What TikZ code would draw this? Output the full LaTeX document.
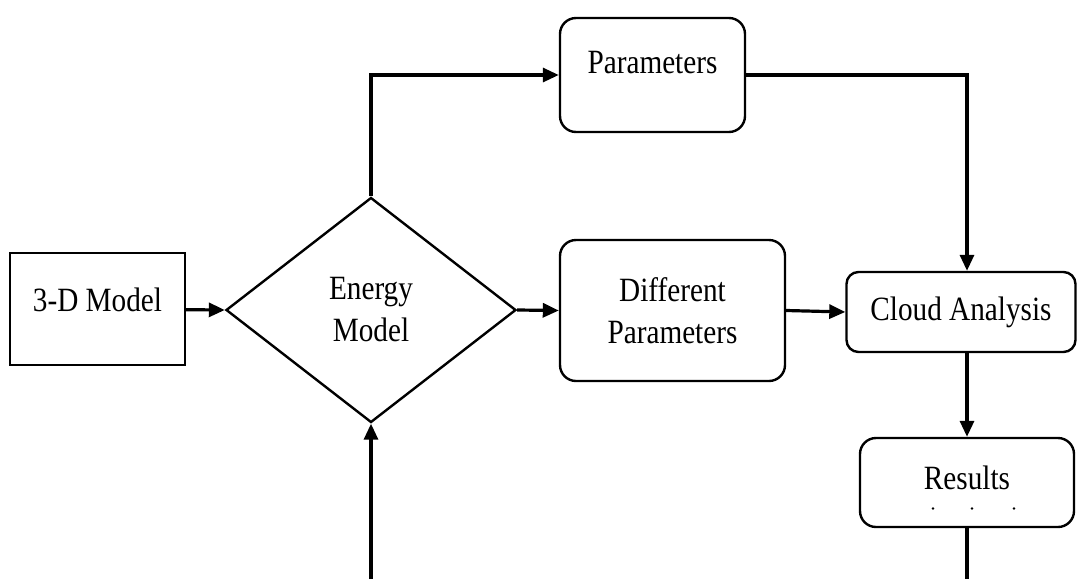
\documentclass[tikz,border=0pt]{standalone}
\usepackage{fontspec}
\setmainfont{Liberation Serif}[FakeStretch=0.86]
\usetikzlibrary{shapes.geometric,arrows.meta}

\begin{document}
\begin{tikzpicture}[x=0.5pt, y=-0.5pt,
    font=\fontsize{17}{21}\selectfont,
    block/.style={draw=black, line width=1.2pt, inner sep=0pt, align=center},
    roundbox/.style={block, rounded corners=8pt},
    flow/.style={line width=1.6pt, -{Triangle[length=8pt, width=7pt]}},
    plain/.style={line width=1.6pt}]

            \useasboundingbox (0,0) rectangle (1077,579);

            \node[block, minimum width=87.5pt, minimum height=56pt] (model) at (97.5,309) {\raisebox{9pt}{3-D Model}};
            \node[block, diamond, aspect=1.29, minimum width=145pt, minimum height=112.5pt] (energy) at (371,310) {Energy\\Model};
            \node[roundbox, minimum width=92.5pt, minimum height=57pt] (params) at (652.5,75) {\raisebox{13pt}{Parameters}};
            \node[roundbox, minimum width=112.5pt, minimum height=70.5pt] (diffparams) at (672.5,310.5) {Different\\Parameters};
            \node[roundbox, rounded corners=6pt, minimum width=114.5pt, minimum height=40pt] (cloud) at (961,312) {Cloud Analysis};
            \node[roundbox, minimum width=107pt, minimum height=44.5pt] (results) at (967,482.5) {\raisebox{5pt}{Results}};
            \foreach \dx in {-34,5,47} {
                \fill (results.center) ++(\dx,26) circle (0.7pt);
            }

            \coordinate (feedin) at (371,579);
            \coordinate (feedout) at (967,579);

            \draw[flow] (model) -- (energy.west);
            \draw[flow] (energy.north) |- (params.west);
            \draw[flow] (params.east) -| ([xshift=3pt]cloud.north);
            \draw[flow] (energy.east) -- (diffparams.west);
            \draw[flow] (diffparams.east) -- (cloud.west);
            \draw[flow] ([xshift=3pt]cloud.south) -- (results.north);
            \draw[flow] (feedin) -- (energy.south);
            \draw[plain] (results.south) -- (feedout);

        \end{tikzpicture}
\end{document}
